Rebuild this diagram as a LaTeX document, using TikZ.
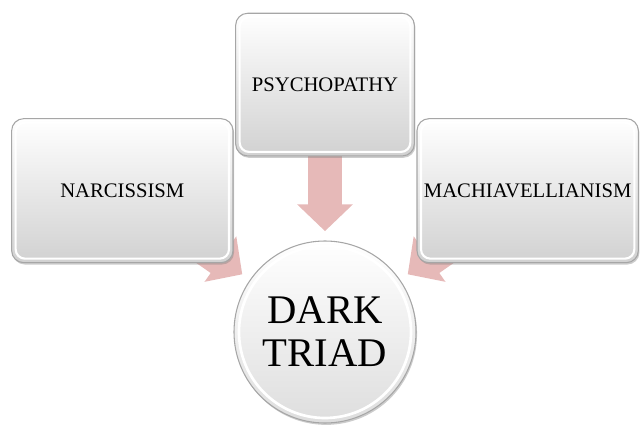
\documentclass[tikz,border=0pt]{standalone}
\usepackage{fontspec}
\setmainfont{Liberation Serif}
\usetikzlibrary{positioning,arrows.meta,shadows,backgrounds}
\definecolor{ArrowPink}{HTML}{E6B9B8}
\tikzset{
  trait/.style={draw=black!35,line width=0.8pt,rounded corners=9pt,align=center,inner sep=4pt,
    top color=white,middle color=black!3,bottom color=black!18,
    drop shadow={opacity=0.4,shadow xshift=0.8pt,shadow yshift=-1.4pt},
    path picture={\draw[white,line width=1.6pt,rounded corners=7pt]
      ([shift={(3pt,-3pt)}]path picture bounding box.north west) rectangle
      ([shift={(-3pt,3pt)}]path picture bounding box.south east);},
    font=\fontsize{15.5}{18}\selectfont},
  hub/.style={circle,draw=black!35,line width=0.8pt,minimum size=136.5pt,inner sep=0pt,
    align=center,top color=white,bottom color=black!13,
    drop shadow={opacity=0.4,shadow xshift=0.8pt,shadow yshift=-1.4pt},
    path picture={\draw[white,line width=2pt]
      (path picture bounding box.center) circle (64.5pt);},
    font=\fontsize{30.5}{32.3}\selectfont},
  blockarr/.style={line width=25.5pt,ArrowPink,
    -{Triangle[length=20pt,width=40.5pt]},shorten >=7pt},
}

\begin{document}
\begin{tikzpicture}
\useasboundingbox (-243.75pt,-72pt) rectangle (237pt,249pt);

% centre
\node[hub] (triad) at (0,0) {DARK\\TRIAD};

% the three traits
\node[trait, minimum width=134pt, minimum height=107pt, above=63pt of triad] (psy) {PSYCHOPATHY};
\node[trait, minimum width=166pt, minimum height=108pt] (narc) at (-152pt,106pt) {NARCISSISM};
\node[trait, minimum width=166pt, minimum height=108pt] (mach) at (152pt,106pt) {MACHIAVELLIANISM};

% arrows into the centre
\begin{scope}[on background layer]
\draw[blockarr] (psy.center) -- (triad);
\draw[blockarr] (narc.center) -- (triad);
\draw[blockarr] (mach.center) -- (triad);
\end{scope}

\end{tikzpicture}
\end{document}
